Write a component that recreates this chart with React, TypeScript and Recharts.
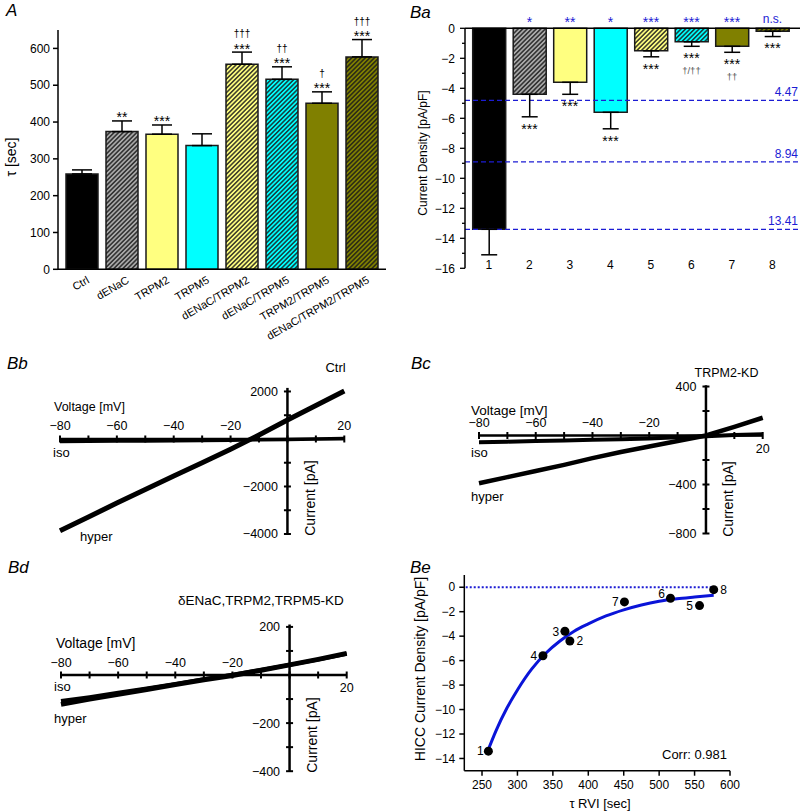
import React from "react";
import {
  ComposedChart,
  Bar,
  Cell,
  ErrorBar,
  Scatter,
  Line,
  XAxis,
  YAxis,
  ReferenceLine,
  ReferenceDot,
} from "recharts";

const FONT = "'Liberation Sans', Arial, Helvetica, sans-serif";
const BLUE = "#1c1cd4";

// panel A: RVI time constant per siRNA group
const groups = ["Ctrl", "dENaC", "TRPM2", "TRPM5", "dENaC/TRPM2", "dENaC/TRPM5", "TRPM2/TRPM5", "dENaC/TRPM2/TRPM5"];
const tauMean = [259, 374, 367, 336, 557, 516, 451, 577];
const tauSem = [11, 29, 25, 32, 33, 34, 31, 47];
const tauStars = ["", "**", "***", "", "***", "***", "***", "***"];
const tauDaggers = ["", "", "", "", "†††", "††", "†", "†††"];
const tauTicks = [0, 100, 200, 300, 400, 500, 600];

// panel Ba: HICC current density, same 8 groups
const groupIds = ["1", "2", "3", "4", "5", "6", "7", "8"];
const hiccMean = [-13.4, -4.4, -3.6, -5.6, -1.5, -0.9, -1.2, -0.2];
const hiccSem = [1.7, 1.5, 0.8, 1.1, 0.4, 0.3, 0.4, 0.35];
const hiccVsTau = ["", "*", "**", "*", "***", "***", "***", "n.s."];
const hiccStars = ["", "***", "***", "***", "***", "***", "***", "***"];
const hiccDaggers = ["", "", "", "", "", "†/††", "††", ""];
const hiccTicks = [-16, -15, -14, -13, -12, -11, -10, -9, -8, -7, -6, -5, -4, -3, -2, -1, 0];
const thresholdY = [-4.8, -8.9, -13.4];
const thresholdText = ["4.47", "8.94", "13.41"];

// panels Bb-Bd: I/V traces
const ivVolt = [-80, -70, -60, -50, -40, -30, -20, -10, 0, 10, 20];
const ivXTicks = [-80, -70, -60, -50, -40, -30, -20, -10, 0, 10, 20];
const ctrlHyper = [-3860, -3280, -2700, -2130, -1560, -1000, -430, 170, 800, 1410, 2020];
const ctrlIso = [-110, -100, -90, -80, -70, -60, -50, -35, -20, 0, 20];
const ctrlYTicks = [-4000, -3000, -2000, -1000, 0, 1000, 2000];
const ctrlYLabels = [2000, -2000, -4000];
const m2Hyper = [-390, -340, -290, -240, -185, -135, -90, -45, 0, 70, 145];
const m2Iso = [-55, -50, -45, -40, -35, -30, -25, -15, -5, 5, 10];
const m2YTicks = [-800, -600, -400, -200, 0, 200, 400];
const m2YLabels = [400, -400, -800];
const tripleHyper = [-122, -100, -80, -60, -40, -20, -2, 20, 42, 65, 90];
const tripleIso = [-108, -92, -74, -56, -37, -18, 1, 21, 42, 64, 88];
const tripleYTicks = [-400, -300, -200, -100, 0, 100, 200];
const tripleYLabels = [200, -200, -400];

// panel Be: fitted curve
const fitTau = [258, 270, 285, 300, 320, 340, 360, 380, 400, 425, 450, 475, 500, 525, 550, 577];
const fitHicc = [-13.4, -11.7, -9.9, -8.4, -6.7, -5.4, -4.4, -3.6, -3.0, -2.35, -1.85, -1.45, -1.15, -0.95, -0.8, -0.65];
const beXTicks = [250, 300, 350, 400, 450, 500, 550, 600];
const beYTicks = [-14, -12, -10, -8, -6, -4, -2, 0];

// styles
const barLook = ["#000", "hatch:gray", "#ffff80", "#00ffff", "hatch:yellow", "hatch:cyan", "#808000", "hatch:olive"];
const HATCH_BG: Record<string, string> = { gray: "#a9a9a9", yellow: "#ffff80", cyan: "#00ffff", olive: "#808000" };
const pointLabelOffset = [[-8, 0], [10, 0], [-9, 0], [-9, 0], [-10, 0], [-9, -5], [-9, 0], [10, 0]];

const fmt = (v: number) => (v < 0 ? `\u2212${-v}` : `${v}`);
const fillFor = (prefix: string, i: number) =>
  barLook[i].startsWith("hatch:") ? `url(#${prefix}-${barLook[i].slice(6)})` : barLook[i];

const hatchDefs = (prefix: string) => (
  <defs>
    {Object.keys(HATCH_BG).map((k) => (
      <pattern key={k} id={`${prefix}-${k}`} patternUnits="userSpaceOnUse" width={3.2} height={3.2} patternTransform="rotate(45)">
        <rect width={3.2} height={3.2} fill={HATCH_BG[k]} />
        <line x1={1.6} y1={0} x2={1.6} y2={3.2} stroke="#1a1a1a" strokeWidth={1.3} />
      </pattern>
    ))}
  </defs>
);

// small dagger marks: a hair of rotation keeps them grey-scale anti-aliased
const Dagger = ({ x, y, size, color, text }: any) => (
  <text x={x} y={y} transform={`rotate(0.01 ${x} ${y})`} textAnchor="middle" fontSize={size} fill={color}>
    {text}
  </text>
);

const RotTick = (p: any) => {
  const x = p.x + 8;
  const y = p.y + 13;
  return (
    <text x={x} y={y} transform={`rotate(-30 ${x} ${y})`} textAnchor="end" fontSize={11} fill="#000">
      {p.payload.value}
    </text>
  );
};

const SigAbove = (p: any) => {
  const { cx, cy, payload } = p;
  return (
    <g>
      {payload.daggers && <Dagger x={cx} y={cy - 15} size={10} color="#000" text={payload.daggers} />}
      {payload.stars && (
        <text x={cx} y={cy + 1.5} textAnchor="middle" fontSize={14} fill="#000">{payload.stars}</text>
      )}
    </g>
  );
};

function PanelA() {
  const rows = groups.map((g, i) => ({
    g,
    tau: tauMean[i],
    err: [0, tauSem[i]],
    top: tauMean[i] + tauSem[i],
    stars: tauStars[i],
    daggers: tauDaggers[i],
  }));
  return (
    <div style={{ position: "absolute", left: 0, top: 0 }}>
      <ComposedChart width={400} height={345} data={rows} margin={{ top: 30, right: 14, bottom: 5.7, left: 13 }}>
        {hatchDefs("pa")}
        <XAxis
          dataKey="g"
          height={70}
          interval={0}
          padding={{ left: 4, right: 4 }}
          axisLine={{ stroke: "#000", strokeWidth: 1.5 }}
          tickLine={false}
          tickSize={0}
          tickMargin={0}
          tick={<RotTick />}
        />
        <YAxis
          width={45}
          domain={[0, 650]}
          ticks={tauTicks}
          interval={0}
          axisLine={{ stroke: "#000", strokeWidth: 1.5 }}
          tickLine={{ stroke: "#000", strokeWidth: 1.5 }}
          tickSize={5}
          tickMargin={3}
          tick={{ fill: "#000", fontSize: 12 }}
        />
        <Bar dataKey="tau" barSize={32} stroke="#1a1a1a" strokeWidth={1.5} isAnimationActive={false}>
          {rows.map((r, i) => (
            <Cell key={r.g} fill={fillFor("pa", i)} />
          ))}
          <ErrorBar dataKey="err" width={10} stroke="#000" strokeWidth={1.5} direction="y" />
        </Bar>
        <Scatter dataKey="top" shape={<SigAbove />} isAnimationActive={false} />
      </ComposedChart>
    </div>
  );
}

const DensityTick = (p: any) => {
  const v = p.payload.value;
  const major = v % 2 === 0;
  return (
    <g>
      <line x1={p.x - (major ? 5 : 3)} x2={p.x} y1={p.y} y2={p.y} stroke="#000" strokeWidth={1.3} />
      {major && (
        <text x={p.x - 10} y={p.y + 4.3} textAnchor="end" fontSize={12} fill="#000">{fmt(v)}</text>
      )}
    </g>
  );
};

const IdTick = (p: any) => (
  <text x={p.x} y={p.y + 1} textAnchor="middle" fontSize={12} fill="#000">{p.payload.value}</text>
);

const SigBelow = (p: any) => {
  const { cx, cy, payload } = p;
  return (
    <g>
      {payload.stars && (
        <text x={cx} y={cy + 16.7} textAnchor="middle" fontSize={14} fill="#000">{payload.stars}</text>
      )}
      {payload.daggers && <Dagger x={cx} y={cy + 27.5} size={9.5} color="#555" text={payload.daggers} />}
    </g>
  );
};

const SigBlue = (p: any) => {
  const { cx, cy, payload } = p;
  if (!payload.vs) return <g />;
  const ns = payload.vs === "n.s.";
  return (
    <text x={cx} y={ns ? cy - 5.6 : cy - 1.5} textAnchor="middle" fontSize={ns ? 12 : 14} fill={BLUE}>
      {payload.vs}
    </text>
  );
};

function PanelBa() {
  const rows = groupIds.map((k, i) => ({
    k,
    hicc: hiccMean[i],
    err: [hiccSem[i], 0],
    low: hiccMean[i] - hiccSem[i],
    zero: 0,
    vs: hiccVsTau[i],
    stars: hiccStars[i],
    daggers: hiccDaggers[i],
  }));
  return (
    <div style={{ position: "absolute", left: 400, top: 0 }}>
      <ComposedChart width={400} height={290} data={rows} margin={{ top: 28.3, right: 0, bottom: 1.7, left: 15 }}>
        {hatchDefs("pb")}
        <XAxis
          dataKey="k"
          height={20}
          interval={0}
          padding={{ left: 3.7, right: 7.3 }}
          axisLine={false}
          tickLine={false}
          tickSize={0}
          tickMargin={0}
          tick={<IdTick />}
        />
        <YAxis
          width={50}
          domain={[-16, 0]}
          ticks={hiccTicks}
          interval={0}
          axisLine={{ stroke: "#000", strokeWidth: 1.5 }}
          tickLine={false}
          tickSize={0}
          tickMargin={0}
          tick={<DensityTick />}
        />
        {thresholdY.map((y, i) => (
          <ReferenceLine
            key={thresholdText[i]}
            y={y}
            stroke={BLUE}
            strokeWidth={1.3}
            strokeDasharray="5 3"
            label={(lp: any) => (
              <text
                x={lp.viewBox.x + lp.viewBox.width - 2}
                y={lp.viewBox.y - 4}
                textAnchor="end"
                fontSize={12}
                fill={BLUE}
              >
                {thresholdText[i]}
              </text>
            )}
          />
        ))}
        <Bar dataKey="hicc" barSize={33} stroke="#1a1a1a" strokeWidth={1.5} isAnimationActive={false}>
          {rows.map((r, i) => (
            <Cell key={r.k} fill={fillFor("pb", i)} />
          ))}
          <ErrorBar dataKey="err" width={8} stroke="#000" strokeWidth={1.5} direction="y" />
        </Bar>
        <ReferenceLine y={0} stroke="#000" strokeWidth={1.5} />
        <Scatter dataKey="low" shape={<SigBelow />} isAnimationActive={false} />
        <Scatter dataKey="zero" shape={<SigBlue />} isAnimationActive={false} />
      </ComposedChart>
    </div>
  );
}

type IVCfg = {
  left: number;
  top: number;
  width: number;
  height: number;
  margin: { top: number; right: number; bottom: number; left: number };
  yDomain: [number, number];
  yTicks: number[];
  yLabels: number[];
  xLabelsBelow: number[];
  hyper: number[];
  iso: number[];
  hyperW: number;
  isoW: number;
};

const VTick = (p: any) => (
  <line x1={p.cx} x2={p.cx} y1={p.cy - 3.5} y2={p.cy + 3.5} stroke="#000" strokeWidth={2} />
);
const HTick = (p: any) => (
  <line x1={p.cx - 3.5} x2={p.cx + 3.5} y1={p.cy} y2={p.cy} stroke="#000" strokeWidth={2} />
);

function IVPanel({ c }: { c: IVCfg }) {
  const hyperRows = ivVolt.map((v, i) => ({ v, cur: c.hyper[i] }));
  const isoRows = ivVolt.map((v, i) => ({ v, cur: c.iso[i] }));
  const lab = { fontSize: 12.5, fill: "#000" };
  return (
    <div style={{ position: "absolute", left: c.left, top: c.top }}>
      <ComposedChart width={c.width} height={c.height} margin={c.margin}>
        <XAxis type="number" dataKey="v" domain={[-80, 20]} hide />
        <YAxis type="number" domain={c.yDomain} hide />
        <ReferenceLine y={0} stroke="#000" strokeWidth={2.5} />
        <ReferenceLine x={0} stroke="#000" strokeWidth={2.5} />
        {ivXTicks.map((v) => {
          const labeled = v !== 0 && v % 20 === 0;
          const below = c.xLabelsBelow.includes(v);
          return (
            <ReferenceDot
              key={"x" + v}
              x={v}
              y={0}
              r={0}
              shape={VTick}
              label={labeled ? { value: fmt(v), position: below ? "bottom" : "top", offset: 8.5, ...lab } : undefined}
            />
          );
        })}
        {c.yTicks.map((v) => (
          <ReferenceDot
            key={"y" + v}
            x={0}
            y={v}
            r={0}
            shape={HTick}
            label={c.yLabels.includes(v) ? { value: fmt(v), position: "left", offset: 9.5, ...lab } : undefined}
          />
        ))}
        <Line data={isoRows} dataKey="cur" type="linear" dot={false} stroke="#000" strokeWidth={c.isoW} isAnimationActive={false} />
        <Line data={hyperRows} dataKey="cur" type="linear" dot={false} stroke="#000" strokeWidth={c.hyperW} isAnimationActive={false} />
      </ComposedChart>
    </div>
  );
}

const PointMark = (p: any) => {
  const { cx, cy, index } = p;
  const [dx, dy] = pointLabelOffset[index];
  return (
    <g>
      <circle cx={cx} cy={cy} r={4.5} fill="#000" />
      <text x={cx + dx} y={cy + dy + 4.3} textAnchor="middle" fontSize={12} fill="#000">{groupIds[index]}</text>
    </g>
  );
};

function PanelBe() {
  const pts = tauMean.map((t, i) => ({ x: t, y: hiccMean[i] }));
  const fit = fitTau.map((t, i) => ({ x: t, y: fitHicc[i] }));
  return (
    <div style={{ position: "absolute", left: 400, top: 550 }}>
      <ComposedChart width={400} height={262} margin={{ top: 25, right: 70, bottom: 11.3, left: 24.3 }}>
        <XAxis
          type="number"
          dataKey="x"
          domain={[225, 600]}
          ticks={beXTicks}
          interval={0}
          height={30}
          axisLine={{ stroke: "#000", strokeWidth: 1.5 }}
          tickLine={{ stroke: "#000", strokeWidth: 1.5 }}
          tickSize={5}
          tickMargin={5}
          tick={{ fill: "#000", fontSize: 12 }}
        />
        <YAxis
          type="number"
          domain={[-15, 1]}
          ticks={beYTicks}
          interval={0}
          width={40}
          axisLine={{ stroke: "#000", strokeWidth: 1.5 }}
          tickLine={{ stroke: "#000", strokeWidth: 1.5 }}
          tickSize={5}
          tickMargin={4}
          tickFormatter={fmt}
          tick={{ fill: "#000", fontSize: 12 }}
        />
        <ReferenceLine
          segment={[{ x: 227, y: 0 }, { x: 577, y: 0 }]}
          stroke={BLUE}
          strokeWidth={2}
          strokeDasharray="2 2"
        />
        <Line data={fit} dataKey="y" type="monotone" dot={false} stroke="#0a14d8" strokeWidth={3} isAnimationActive={false} />
        <Scatter data={pts} dataKey="y" shape={<PointMark />} isAnimationActive={false} />
      </ComposedChart>
    </div>
  );
}

const ctrlCfg: IVCfg = {
  left: 0, top: 370, width: 400, height: 175,
  margin: { top: 17.9, right: 55.7, bottom: 11, left: 60 },
  yDomain: [-4000, 2150], yTicks: ctrlYTicks, yLabels: ctrlYLabels, xLabelsBelow: [],
  hyper: ctrlHyper, iso: ctrlIso, hyperW: 5, isoW: 3.5,
};
const m2Cfg: IVCfg = {
  left: 400, top: 370, width: 400, height: 175,
  margin: { top: 15.3, right: 37.3, bottom: 11.5, left: 79 },
  yDomain: [-800, 410], yTicks: m2YTicks, yLabels: m2YLabels, xLabelsBelow: [20],
  hyper: m2Hyper, iso: m2Iso, hyperW: 4.5, isoW: 4,
};
const tripleCfg: IVCfg = {
  left: 0, top: 590, width: 400, height: 200,
  margin: { top: 34.5, right: 53.3, bottom: 18.8, left: 61 },
  yDomain: [-400, 210], yTicks: tripleYTicks, yLabels: tripleYLabels, xLabelsBelow: [20],
  hyper: tripleHyper, iso: tripleIso, hyperW: 5, isoW: 4,
};

const rot = (x: number, y: number) => `rotate(-90 ${x} ${y})`;

function Texts() {
  return (
    <svg
      width={800}
      height={812}
      style={{ position: "absolute", left: 0, top: 0, pointerEvents: "none" }}
      fontFamily={FONT}
      fill="#000"
    >
      <g fontStyle="italic" fontSize={17}>
        <text x={6} y={16}>A</text>
        <text x={410} y={18}>Ba</text>
        <text x={7} y={369}>Bb</text>
        <text x={411} y={369}>Bc</text>
        <text x={8} y={573}>Bd</text>
        <text x={410} y={573}>Be</text>
      </g>
      <text x={16} y={157} transform={rot(16, 157)} textAnchor="middle" fontSize={14}>τ [sec]</text>
      <text x={427} y={153} transform={rot(427, 153)} textAnchor="middle" fontSize={12}>Current Density [pA/pF]</text>

      <text x={335.5} y={371.5} textAnchor="middle" fontSize={13}>Ctrl</text>
      <text x={54} y={411} fontSize={12.5}>Voltage [mV]</text>
      <text x={53} y={457} fontSize={13}>iso</text>
      <text x={80} y={540.5} fontSize={13}>hyper</text>
      <text x={314.5} y={498} transform={rot(314.5, 498)} textAnchor="middle" fontSize={14}>Current [pA]</text>

      <text x={726.5} y={376.5} textAnchor="middle" fontSize={12.5}>TRPM2-KD</text>
      <text x={471} y={414.5} fontSize={13.5}>Voltage [mV]</text>
      <text x={471} y={457} fontSize={13}>iso</text>
      <text x={471} y={500.5} fontSize={13}>hyper</text>
      <text x={733} y={499} transform={rot(733, 499)} textAnchor="middle" fontSize={14}>Current [pA]</text>

      <text x={178} y={605} fontSize={13.5}>δENaC,TRPM2,TRPM5-KD</text>
      <text x={56} y={647.5} fontSize={14}>Voltage [mV]</text>
      <text x={54} y={691} fontSize={13}>iso</text>
      <text x={54} y={722.5} fontSize={13}>hyper</text>
      <text x={316.5} y={735} transform={rot(316.5, 735)} textAnchor="middle" fontSize={14}>Current [pA]</text>

      <text x={425} y={669} transform={rot(425, 669)} textAnchor="middle" fontSize={14}>HICC Current Density [pA/pF]</text>
      <text x={600} y={807.5} textAnchor="middle" fontSize={13}>τ RVI [sec]</text>
      <text x={662} y={758.5} fontSize={13}>Corr: 0.981</text>
    </svg>
  );
}

export default function App() {
  return (
    <div
      style={{
        position: "absolute",
        left: 0,
        top: 0,
        width: 800,
        height: 812,
        background: "#fff",
        overflow: "hidden",
        fontFamily: FONT,
      }}
    >
      <PanelA />
      <PanelBa />
      <IVPanel c={ctrlCfg} />
      <IVPanel c={m2Cfg} />
      <IVPanel c={tripleCfg} />
      <PanelBe />
      <Texts />
    </div>
  );
}
